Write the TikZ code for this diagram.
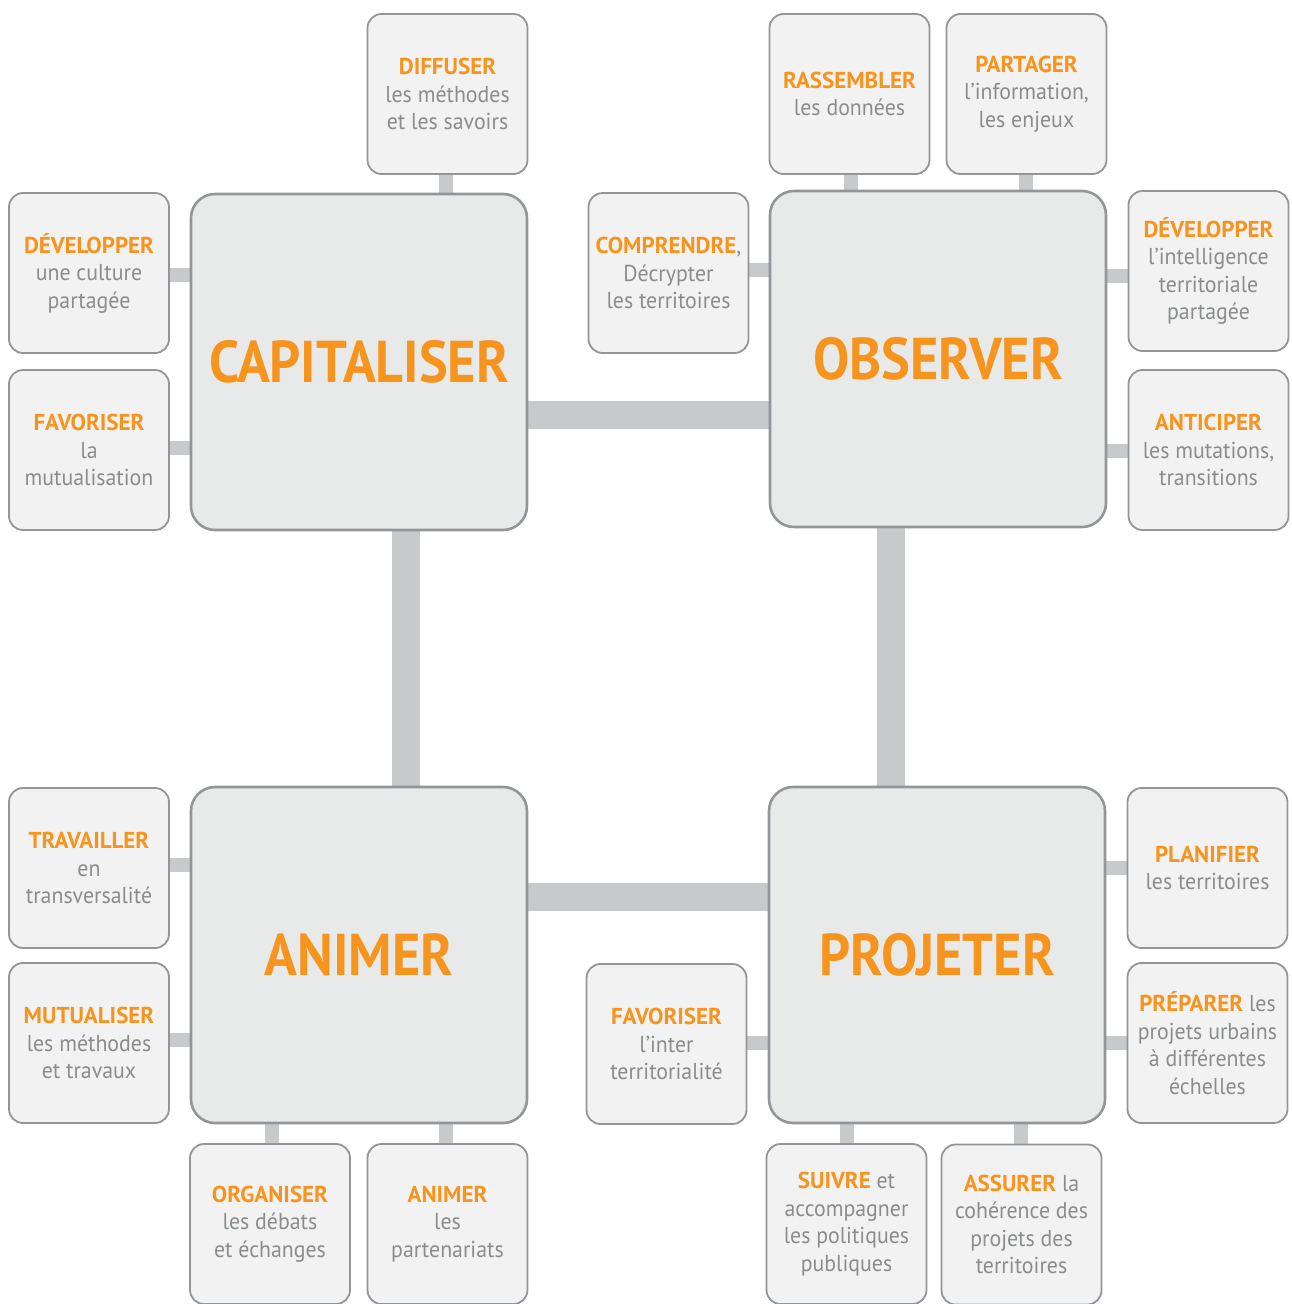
\documentclass[tikz,border=0pt]{standalone}
\usepackage{fontspec}
\setmainfont{PT Sans}
\newfontfamily\bigfont[FakeStretch=0.92]{PT Sans}
\newfontfamily\smallfont[FakeStretch=0.95]{PT Sans}
\newfontfamily\headfont[FakeStretch=1.0]{PT Sans}
\usetikzlibrary{backgrounds}
\definecolor{orangeA}{HTML}{F7941D}
\definecolor{grayT}{HTML}{8A8C8E}
\definecolor{borderC}{HTML}{939598}
\definecolor{fillS}{HTML}{F2F2F2}
\definecolor{fillB}{HTML}{E8E9E9}
\definecolor{connC}{HTML}{C8C9CB}
\newcommand{\hl}[1]{{\headfont\bfseries\color{orangeA}#1}}
\tikzset{
  bigbox/.style={draw=borderC, line width=2.6pt, fill=fillB, rounded corners=24pt,
    minimum width=336pt, minimum height=336pt, inner sep=0pt,
    font=\bigfont\bfseries\fontsize{59}{61}\selectfont, text=orangeA},
  smallbox/.style={draw=borderC, line width=1.8pt, fill=fillS, rounded corners=14pt,
    minimum width=160pt, minimum height=160pt, inner sep=0pt, align=center,
    font=\smallfont\fontsize{23}{27.5}\selectfont, text=grayT},
  bigconn/.style={draw=connC, line width=28pt},
  sconn/.style={draw=connC, line width=14pt}
}
\begin{document}
\begin{tikzpicture}[x=1pt,y=-1pt]
\useasboundingbox (0,0) rectangle (1292,1304);
% main boxes
\node[bigbox] (capit) at (359,362) {CAPITALISER};
\node[bigbox] (observ) at (938,359) {OBSERVER};
\node[bigbox] (animer) at (359,955) {ANIMER};
\node[bigbox] (projet) at (937,955) {PROJETER};
% small boxes
\node[smallbox] (diff) at (447.5,94) {\hl{DIFFUSER}\\les méthodes\\et les savoirs};
\node[smallbox] (dev1) at (89,273) {\hl{DÉVELOPPER}\\une culture\\partagée};
\node[smallbox] (fav1) at (89,450) {\hl{FAVORISER}\\la\\mutualisation};
\node[smallbox] (compr) at (668.5,273) {\hl{COMPRENDRE},\\Décrypter\\les territoires};
\node[smallbox] (rass) at (849.5,94) {\hl{RASSEMBLER}\\les données};
\node[smallbox] (part) at (1026.5,94) {\hl{PARTAGER}\\l’information,\\les enjeux};
\node[smallbox] (dev2) at (1208.5,271) {\hl{DÉVELOPPER}\\l’intelligence\\territoriale\\partagée};
\node[smallbox] (antic) at (1208.5,450) {\hl{ANTICIPER}\\les mutations,\\transitions};
\node[smallbox] (trav) at (89,868) {\hl{TRAVAILLER}\\en\\transversalité};
\node[smallbox] (mutu) at (89,1043) {\hl{MUTUALISER}\\les méthodes\\et travaux};
\node[smallbox] (organ) at (270,1224) {\hl{ORGANISER}\\les débats\\et échanges};
\node[smallbox] (animp) at (447.5,1224) {\hl{ANIMER}\\les\\partenariats};
\node[smallbox] (favint) at (666.5,1044) {\hl{FAVORISER}\\l’inter\\territorialité};
\node[smallbox] (planif) at (1207.5,868) {\hl{PLANIFIER}\\les territoires};
\node[smallbox] (prep) at (1207.5,1043) {\hl{PRÉPARER} les\\projets urbains\\à différentes\\échelles};
\node[smallbox] (suivre) at (846.5,1224) {\hl{SUIVRE} et\\accompagner\\les politiques\\publiques};
\node[smallbox] (assur) at (1021.5,1224.5) {\hl{ASSURER} la\\cohérence des\\projets des\\territoires};
\begin{scope}[on background layer]
  % main connectors
  \draw[bigconn] (capit.east |- 0,415) -- (observ.west |- 0,415);
  \draw[bigconn] (animer.east |- 0,897) -- (projet.west |- 0,897);
  \draw[bigconn] (capit.south -| 406,0) -- (animer.north -| 406,0);
  \draw[bigconn] (observ.south -| 891,0) -- (projet.north -| 891,0);
  % small connectors
  \draw[sconn] (diff.south -| 446,0) -- (capit.north -| 446,0);
  \draw[sconn] (dev1.east |- 0,275) -- (capit.west |- 0,275);
  \draw[sconn] (fav1.east |- 0,448) -- (capit.west |- 0,448);
  \draw[sconn] (compr.east |- 0,270) -- (observ.west |- 0,270);
  \draw[sconn] (rass.south -| 851,0) -- (observ.north -| 851,0);
  \draw[sconn] (part.south -| 1026,0) -- (observ.north -| 1026,0);
  \draw[sconn] (dev2.west |- 0,276) -- (observ.east |- 0,276);
  \draw[sconn] (antic.west |- 0,451) -- (observ.east |- 0,451);
  \draw[sconn] (trav.east |- 0,865) -- (animer.west |- 0,865);
  \draw[sconn] (mutu.east |- 0,1040) -- (animer.west |- 0,1040);
  \draw[sconn] (organ.north -| 272,0) -- (animer.south -| 272,0);
  \draw[sconn] (animp.north -| 446,0) -- (animer.south -| 446,0);
  \draw[sconn] (favint.east |- 0,1043) -- (projet.west |- 0,1043);
  \draw[sconn] (planif.west |- 0,868) -- (projet.east |- 0,868);
  \draw[sconn] (prep.west |- 0,1043) -- (projet.east |- 0,1043);
  \draw[sconn] (suivre.north -| 847,0) -- (projet.south -| 847,0);
  \draw[sconn] (assur.north -| 1021,0) -- (projet.south -| 1021,0);
\end{scope}
\end{tikzpicture}
\end{document}
